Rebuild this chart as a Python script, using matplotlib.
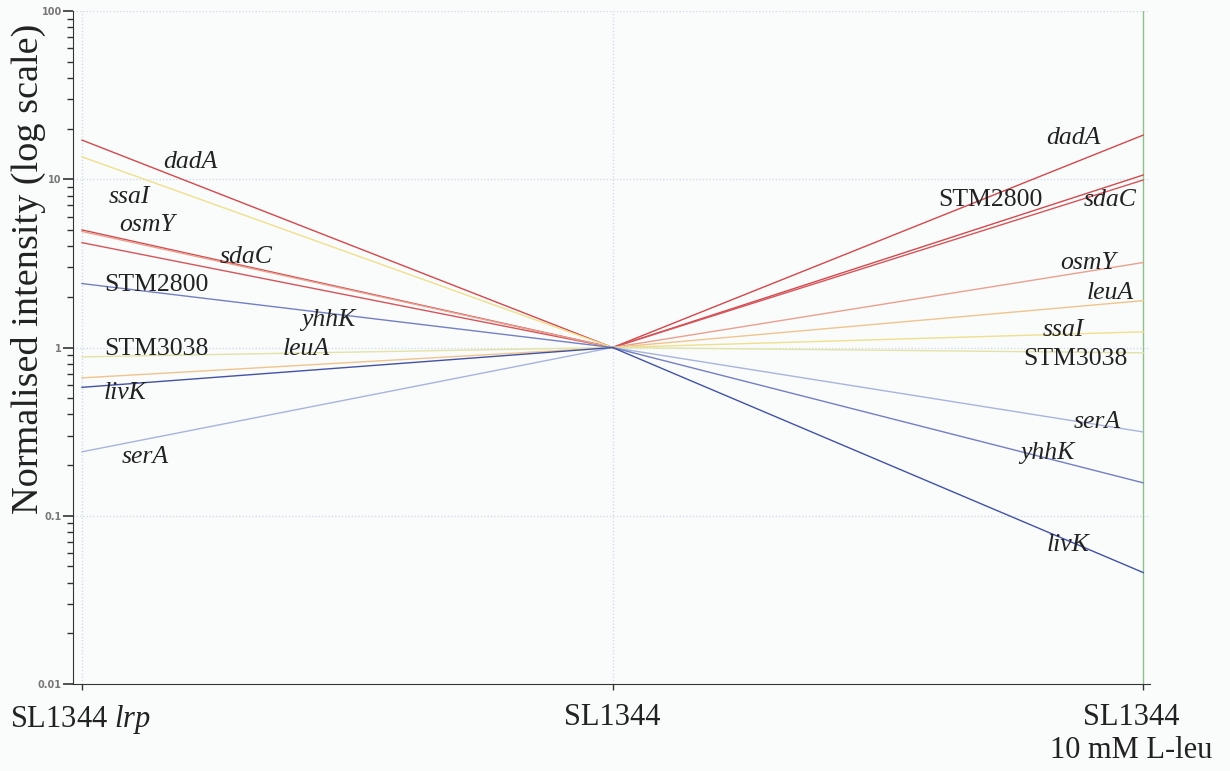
import matplotlib.pyplot as plt
import matplotlib.ticker as mticker
import matplotlib.transforms as mtransforms
import numpy as np

plt.rcParams['font.family'] = ['Liberation Serif', 'DejaVu Serif']
plt.rcParams['mathtext.fontset'] = 'custom'
plt.rcParams['mathtext.rm'] = 'Liberation Serif'
plt.rcParams['mathtext.it'] = 'Liberation Serif:italic'

conditions = ['SL1344 $\\it{lrp}$', 'SL1344', 'SL1344\n10 mM L-leu']

genes = ['dadA', 'sdaC', 'STM2800', 'osmY', 'leuA', 'ssaI', 'STM3038', 'serA', 'yhhK', 'livK']
lrp_vals = [17.1, 5.0, 4.2, 4.9, 0.66, 13.6, 0.88, 0.24, 2.4, 0.58]
wt_vals = [1.0, 1.0, 1.0, 1.0, 1.0, 1.0, 1.0, 1.0, 1.0, 1.0]
leu_vals = [18.3, 10.6, 9.9, 3.2, 1.9, 1.24, 0.93, 0.315, 0.157, 0.046]
colors = ['#d4474c', '#d24a4e', '#d6555a', '#e9a08f', '#f0c48e', '#eee08c',
          '#e2e3a6', '#a9b4dc', '#7280c2', '#4252a4']

# label positions (x in condition units, y in data units)
left_labels = {'dadA': (0.204, 12.7), 'ssaI': (0.09, 7.8), 'osmY': (0.123, 5.35),
               'sdaC': (0.309, 3.45), 'STM2800': (0.141, 2.35), 'yhhK': (0.464, 1.46),
               'STM3038': (0.141, 0.98), 'leuA': (0.422, 0.98), 'livK': (0.081, 0.537),
               'serA': (0.119, 0.224)}
right_labels = {'dadA': (1.868, 17.6), 'STM2800': (1.712, 7.5), 'sdaC': (1.938, 7.5),
                'osmY': (1.896, 3.18), 'leuA': (1.938, 2.11), 'ssaI': (1.849, 1.27),
                'STM3038': (1.872, 0.855), 'serA': (1.913, 0.36), 'yhhK': (1.819, 0.236),
                'livK': (1.859, 0.067)}

fig = plt.figure(figsize=(12.3, 7.71), dpi=100, facecolor='#fafbfb')
ax = fig.add_axes([0.0593, 0.1128, 0.8757, 0.8729])
ax.set_facecolor('#fafbfb')

x = np.arange(3)
for g, a, b, c, col in zip(genes, lrp_vals, wt_vals, leu_vals, colors):
    ax.plot(x, [a, b, c], color=col, lw=1.0, zorder=3)

ax.set_yscale('log')
ax.set_ylim(0.01, 100)
ax.set_xlim(-0.017, 2.013)

# grid
for yv in [0.1, 1, 10, 100]:
    ax.axhline(yv, color='#c9dbe8', lw=0.9, ls=':', zorder=1)
for xv in [0, 1]:
    ax.axvline(xv, color='#c9dbe8', lw=0.9, ls=':', zorder=1)
ax.axvline(2, color='#8fbf8f', lw=1.0, zorder=2)

for sp in ['top', 'right']:
    ax.spines[sp].set_visible(False)
ax.spines['left'].set_color('#333333')
ax.spines['bottom'].set_color('#333333')

ax.yaxis.set_major_locator(mticker.FixedLocator([0.01, 0.1, 1, 10, 100]))
ax.yaxis.set_major_formatter(mticker.FixedFormatter(['0.01', '0.1', '1', '10', '100']))
ax.yaxis.set_minor_locator(mticker.LogLocator(base=10, subs=np.arange(2, 10)))
ax.yaxis.set_minor_formatter(mticker.NullFormatter())
ax.tick_params(axis='y', which='major', length=7, width=1.2, color='#333333',
               labelsize=7, labelcolor='#777777', pad=1)
ax.tick_params(axis='y', which='minor', length=4, width=1.0, color='#333333')
for lab in ax.get_yticklabels():
    lab.set_family('DejaVu Sans')
    lab.set_fontweight('bold')

ax.set_xticks(x)
ax.set_xticklabels(conditions, fontsize=22, color='#222222', va='top', linespacing=1.15)
ax.tick_params(axis='x', length=4, width=1.0, color='#333333', pad=10)
xlabs = ax.get_xticklabels()
xlabs[0].set_transform(xlabs[0].get_transform() +
                       mtransforms.ScaledTranslation(-0.02, 0, fig.dpi_scale_trans))
xlabs[2].set_transform(xlabs[2].get_transform() +
                       mtransforms.ScaledTranslation(-0.12, 0, fig.dpi_scale_trans))

fig.text(28 / 1230, 1 - 269 / 771, 'Normalised intensity (log scale)', rotation=90,
         fontsize=27.5, color='#222222', ha='center', va='center')

for labels in (left_labels, right_labels):
    for g, (lx, ly) in labels.items():
        style = 'normal' if g.startswith('STM') else 'italic'
        ax.text(lx, ly, g, fontsize=18.5, style=style, color='#222222',
                ha='center', va='center', zorder=4)

fig.savefig('out.png', dpi=100, facecolor=fig.get_facecolor())
